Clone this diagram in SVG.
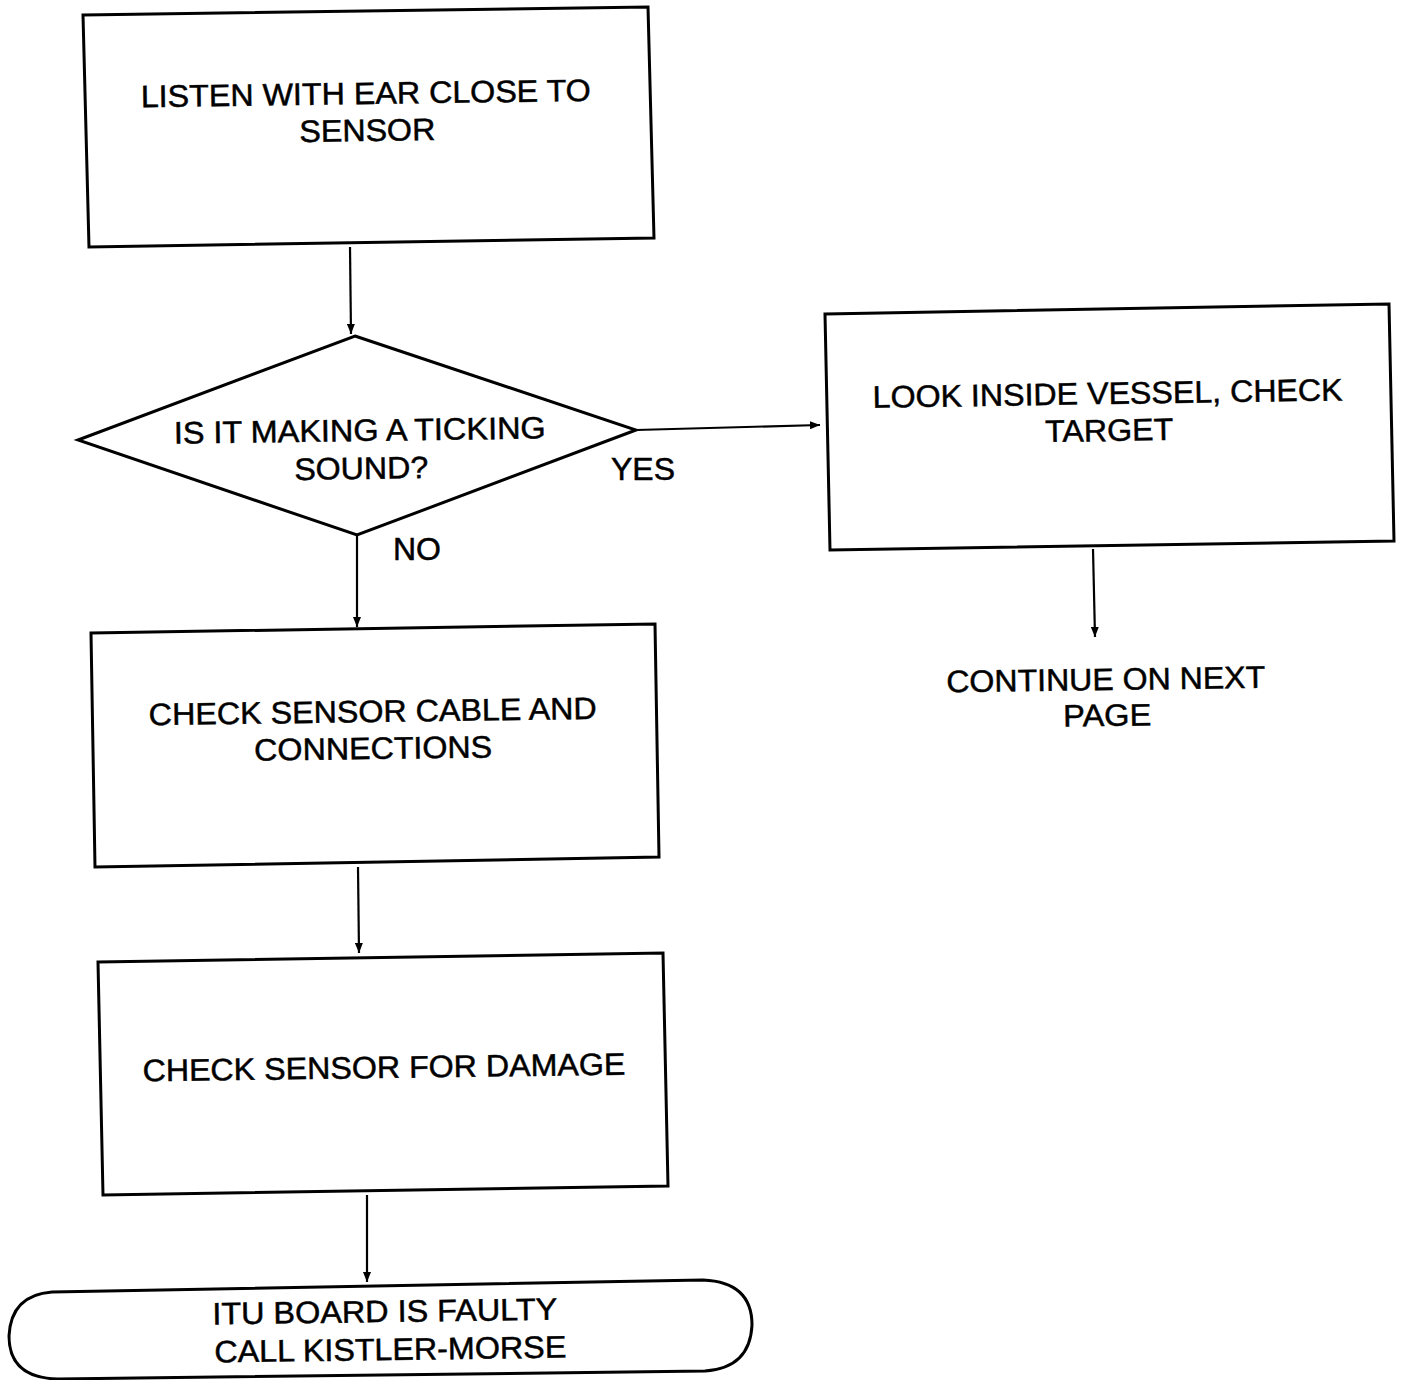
<svg xmlns="http://www.w3.org/2000/svg" width="1403" height="1380" viewBox="0 0 1403 1380">
<defs>
<style>
.n{fill:#fff;stroke:#000;stroke-width:3;stroke-linejoin:miter}
.t{font-family:"Liberation Sans",Arial,sans-serif;font-size:31px;fill:#000;stroke:#000;stroke-width:0.5;text-anchor:middle}
.c{stroke:#000;stroke-width:2.2;fill:none}
</style>
<marker id="ah" viewBox="0 0 10 8" refX="10" refY="4" markerWidth="10" markerHeight="8" markerUnits="userSpaceOnUse" orient="auto">
<path d="M0,0 L10,4 L0,8 Z" fill="#000"/>
</marker>
</defs>
<rect width="1403" height="1380" fill="#fff"/>
<g id="connectors">
<line class="c" x1="350" y1="247" x2="351" y2="334" marker-end="url(#ah)"/>
<line class="c" x1="636" y1="430" x2="820" y2="425" marker-end="url(#ah)"/>
<line class="c" x1="1093" y1="549" x2="1095" y2="637" marker-end="url(#ah)"/>
<line class="c" x1="357" y1="535" x2="357" y2="627" marker-end="url(#ah)"/>
<line class="c" x1="358" y1="867" x2="359" y2="953" marker-end="url(#ah)"/>
<line class="c" x1="367" y1="1195" x2="367" y2="1282" marker-end="url(#ah)"/>
</g>
<g id="n1">
<polygon class="n" points="83,15 648,7 654,238 89,247"/>
<g transform="rotate(-0.8 366 110)">
<text class="t" x="366" y="104" textLength="450" lengthAdjust="spacingAndGlyphs">LISTEN WITH EAR CLOSE TO</text>
<text class="t" x="367" y="141" textLength="136" lengthAdjust="spacingAndGlyphs">SENSOR</text>
</g>
</g>
<g id="n2">
<polygon class="n" points="355,336 636,430 357,535 78,440"/>
<g transform="rotate(-0.8 360 450)">
<text class="t" x="360" y="441" textLength="372" lengthAdjust="spacingAndGlyphs">IS IT MAKING A TICKING</text>
<text class="t" x="361" y="479" textLength="134" lengthAdjust="spacingAndGlyphs">SOUND?</text>
</g>
<text class="t" x="643" y="480" textLength="64" lengthAdjust="spacingAndGlyphs">YES</text>
<text class="t" x="417" y="560" textLength="48" lengthAdjust="spacingAndGlyphs">NO</text>
</g>
<g id="n3">
<polygon class="n" points="825,314 1389,304 1394,541 830,550"/>
<g transform="rotate(-0.9 1108 420)">
<text class="t" x="1108" y="404" textLength="470" lengthAdjust="spacingAndGlyphs">LOOK INSIDE VESSEL, CHECK</text>
<text class="t" x="1109" y="441" textLength="128" lengthAdjust="spacingAndGlyphs">TARGET</text>
</g>
</g>
<g id="n4">
<g transform="rotate(-0.8 1106 700)">
<text class="t" x="1106" y="690" textLength="319" lengthAdjust="spacingAndGlyphs">CONTINUE ON NEXT</text>
<text class="t" x="1107" y="726" textLength="88" lengthAdjust="spacingAndGlyphs">PAGE</text>
</g>
</g>
<g id="n5">
<polygon class="n" points="91,633 655,624 659,857 95,867"/>
<g transform="rotate(-0.8 373 735)">
<text class="t" x="373" y="722" textLength="448" lengthAdjust="spacingAndGlyphs">CHECK SENSOR CABLE AND</text>
<text class="t" x="373" y="759" textLength="238" lengthAdjust="spacingAndGlyphs">CONNECTIONS</text>
</g>
</g>
<g id="n6">
<polygon class="n" points="98,962 663,953 668,1186 103,1195"/>
<g transform="rotate(-0.8 384 1070)">
<text class="t" x="384" y="1078" textLength="483" lengthAdjust="spacingAndGlyphs">CHECK SENSOR FOR DAMAGE</text>
</g>
</g>
<g id="n7">
<path class="n" d="M52,1292 L703,1280 Q752,1282 752,1325 Q750,1368 705,1371 L58,1379 Q9,1378 9,1336 Q11,1295 52,1292 Z"/>
<g transform="rotate(-0.8 387 1330)">
<text class="t" x="385" y="1322" textLength="345" lengthAdjust="spacingAndGlyphs">ITU BOARD IS FAULTY</text>
<text class="t" x="390" y="1360" textLength="352" lengthAdjust="spacingAndGlyphs">CALL KISTLER-MORSE</text>
</g>
</g>
</svg>
